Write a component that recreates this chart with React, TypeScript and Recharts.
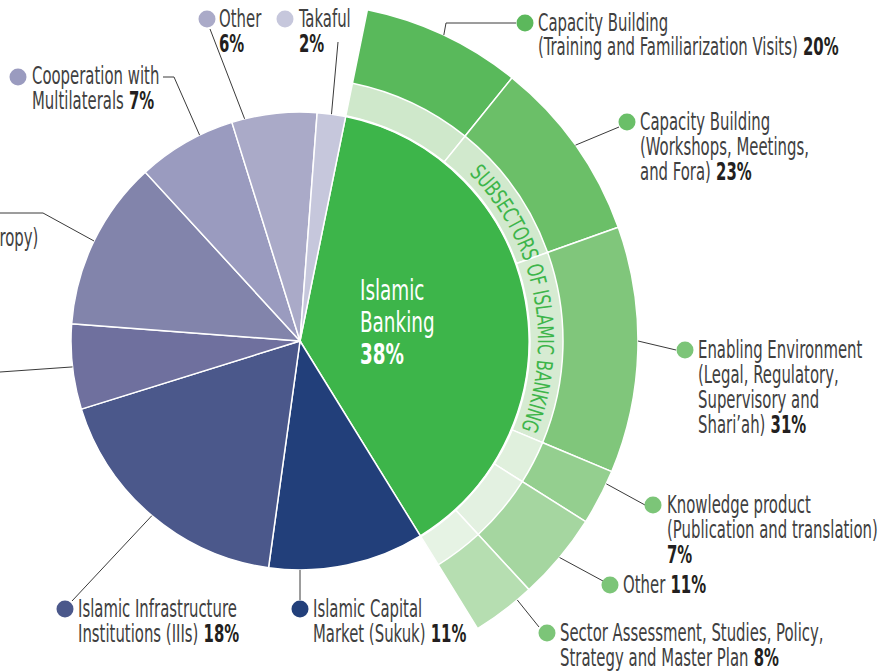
import { Cell, Pie, PieChart } from "recharts"

const W = 883
const H = 672
const CX = 300
const CY = 341
const START = 78.5 // recharts degrees, counter-clockwise from 3 o'clock
const FONT = "'Liberation Sans Narrow', 'DejaVu Sans Condensed', 'Roboto', sans-serif"
const SX = 0.69
const LINE = 25
const RAD = Math.PI / 180

// sectors, clockwise starting at Islamic Banking
const sectors = [
  "Islamic Banking",
  "Islamic Capital Market (Sukuk)",
  "Islamic Infrastructure Institutions (IIIs)",
  "Islamic Microfinance",
  "Islamic Social Finance (Zakat, Awqaf and Philanthropy)",
  "Cooperation with Multilaterals",
  "Other",
  "Takaful",
]
const sectorShares = [38, 11, 18, 6, 12, 7, 6, 2]
const sectorColors = ["#3db54a", "#223f7a", "#4b588b", "#6f709e", "#8284ab", "#9a9bbf", "#aaaac8", "#c6c7dc"]
const sectorLabelLines = [
  ["Islamic", "Banking"],
  ["Islamic Capital", "Market (Sukuk)"],
  ["Islamic Infrastructure", "Institutions (IIIs)"],
  ["Islamic Microfinance"],
  ["Social Finance", "(Zakat, Awqaf and Philanthropy)"],
  ["Cooperation with", "Multilaterals"],
  ["Other", ""],
  ["Takaful", ""],
]

// subsectors of Islamic Banking
const subsectors = [
  "Capacity Building (Training and Familiarization Visits)",
  "Capacity Building (Workshops, Meetings, and Fora)",
  "Enabling Environment (Legal, Regulatory, Supervisory and Shari'ah)",
  "Knowledge product (Publication and translation)",
  "Other",
  "Sector Assessment, Studies, Policy, Strategy and Master Plan",
]
const subsectorShares = [20, 23, 31, 7, 11, 8]
const subsectorColors = ["#59b95b", "#6bbf68", "#80c67b", "#94cf8f", "#a5d6a0", "#b6deb1"]
const bandColors = ["#cfe8cb", "#d1e9cd", "#d6ebd2", "#e0f0dd", "#e3f1e1", "#e6f3e4"]
const subsectorDotColors = ["#5cb85c", "#6abf68", "#7cc578", "#7cc578", "#7cc578", "#7cc578"]
const subsectorLabelLines = [
  ["Capacity Building", "(Training and Familiarization Visits)"],
  ["Capacity Building", "(Workshops, Meetings,", "and Fora)"],
  ["Enabling Environment", "(Legal, Regulatory,", "Supervisory and", "Shari\u2019ah)"],
  ["Knowledge product", "(Publication and translation)", ""],
  ["Other"],
  ["Sector Assessment, Studies, Policy,", "Strategy and Master Plan"],
]

const sectorData = sectors.map((name, i) => ({ name, value: sectorShares[i] }))
const subData = subsectors.map((name, i) => ({ name, value: subsectorShares[i] }))

type Pt = [number, number]
type Lay = { edge?: number; path: Pt[]; dot?: Pt; tx: number; ty: number; anchor?: "start" | "end"; pctLine?: number }

// label placement (edge = clockwise degrees from 12 o'clock, else midAngle)
const sectorLayout: (Lay | null)[] = [
  null,
  { edge: 180, path: [[300, 600]], dot: [300, 609], tx: 313, ty: 617 },
  { path: [[72, 601]], dot: [65, 609], tx: 78, ty: 617 },
  { path: [[0, 372], [-40, 372]], tx: -48, ty: 378, anchor: "end" },
  { path: [[43, 213], [-10, 213]], dot: [-215, 213], tx: -202, ty: 221, pctLine: 0 },
  { edge: 334, path: [[174, 77], [163, 77]], dot: [18, 77], tx: 32, ty: 84 },
  { edge: 346, path: [[210, 29]], dot: [207, 19], tx: 219, ty: 27 },
  { path: [[338, 42]], dot: [285, 19], tx: 299, ty: 27 },
]
const subLayout: Lay[] = [
  { path: [[446, 23], [516, 23]], dot: [525, 23], tx: 538, ty: 30.5 },
  { path: [[619, 127]], dot: [627, 122], tx: 640, ty: 130 },
  { edge: 90, path: [[676, 350]], dot: [685, 350], tx: 698, ty: 358 },
  { edge: 115, path: [[645, 505]], dot: [653, 505], tx: 667, ty: 513 },
  { path: [[603, 581]], dot: [610, 585], tx: 623, ty: 593 },
  { edge: 140, path: [[539, 627]], dot: [547, 633], tx: 560, ty: 641 },
]

function polar(cx: number, cy: number, r: number, a: number): Pt {
  return [cx + r * Math.cos(a * RAD), cy - r * Math.sin(a * RAD)]
}

function LabelText({ lay, lines, pct }: { lay: Lay; lines: string[]; pct: number }) {
  const pl = lay.pctLine ?? lines.length - 1
  return (
    <g transform={`translate(${lay.tx},${lay.ty}) scale(${SX},1)`}>
      {lines.map((ln, i) => (
        <text key={i} x={0} y={i * LINE} fontFamily={FONT} fontSize={24} fill="#404040" textAnchor={lay.anchor ?? "start"}>
          {ln}
          {i === pl && (
            <tspan fontWeight={700} fill="#231f20">
              {ln ? " " : ""}
              {pct}%
            </tspan>
          )}
        </text>
      ))}
    </g>
  )
}

function makeLabel(layout: (Lay | null)[], lines: string[][], shares: number[], dots: string[]) {
  return (p: any) => {
    const lay = layout[p.index]
    if (!lay) return null
    const ang = lay.edge != null ? 90 - lay.edge : p.midAngle
    const e = polar(p.cx, p.cy, p.outerRadius, ang)
    const pts = [e, ...lay.path].map((q) => q.join(",")).join(" ")
    return (
      <g key={`lab-${p.index}`}>
        <polyline points={pts} fill="none" stroke="#3a3a3a" strokeWidth={1} />
        {lay.dot && <circle cx={lay.dot[0]} cy={lay.dot[1]} r={8.5} fill={dots[p.index]} />}
        <LabelText lay={lay} lines={lines[p.index]} pct={shares[p.index]} />
      </g>
    )
  }
}

const sectorLabel = (p: any) => {
  if (p.index !== 0) return makeLabel(sectorLayout, sectorLabelLines, sectorShares, sectorColors)(p)
  return (
    <g key="lab-0" transform="translate(360,300) scale(0.73,1)">
      {sectorLabelLines[0].map((ln, i) => (
        <text key={i} x={0} y={i * 32} fontFamily={FONT} fontSize={28} fill="#fff">
          {ln}
        </text>
      ))}
      <text x={0} y={64} fontFamily={FONT} fontSize={28} fontWeight={700} fill="#fff">
        {sectorShares[0]}%
      </text>
    </g>
  )
}

const subLabel = makeLabel(subLayout, subsectorLabelLines, subsectorShares, subsectorDotColors)

const bandLabel = (p: any) => {
  if (p.index !== 0) return null
  const r = 238
  const [x1, y1] = polar(p.cx, p.cy, r, 90 - 45)
  const [x2, y2] = polar(p.cx, p.cy, r, 90 - 112)
  return (
    <g key="band-title">
      <path id="subArc" d={`M${x1},${y1} A${r},${r} 0 0 1 ${x2},${y2}`} fill="none" />
      <text fontFamily={FONT} fontSize={22} fill="#3db54a">
        <textPath href="#subArc" startOffset="50%" textAnchor="middle" textLength={276} lengthAdjust="spacingAndGlyphs">
          SUBSECTORS OF ISLAMIC BANKING
        </textPath>
      </text>
    </g>
  )
}

export default function App() {
  const ibEnd = START - (360 * sectorShares[0]) / 100
  return (
    <div style={{ position: "absolute", left: 0, top: 0, width: W, height: H, background: "#fff" }}>
      <PieChart width={W} height={H} margin={{ top: 0, right: 0, bottom: 0, left: 0 }}>
        <Pie
          data={subData}
          dataKey="value"
          cx={CX}
          cy={CY}
          innerRadius={262}
          outerRadius={338}
          startAngle={START}
          endAngle={ibEnd}
          stroke="#fff"
          strokeWidth={1.5}
          label={subLabel}
          labelLine={false}
          isAnimationActive={false}
        >
          {subData.map((d, i) => (
            <Cell key={d.name} fill={subsectorColors[i]} />
          ))}
        </Pie>
        <Pie
          data={subData}
          dataKey="value"
          cx={CX}
          cy={CY}
          innerRadius={230}
          outerRadius={263}
          startAngle={START}
          endAngle={ibEnd}
          stroke="#fff"
          strokeWidth={1.5}
          label={bandLabel}
          labelLine={false}
          isAnimationActive={false}
        >
          {subData.map((d, i) => (
            <Cell key={d.name} fill={bandColors[i]} />
          ))}
        </Pie>
        <Pie
          data={sectorData}
          dataKey="value"
          cx={CX}
          cy={CY}
          outerRadius={229}
          startAngle={START}
          endAngle={START - 360}
          stroke="#fff"
          strokeWidth={1.5}
          label={sectorLabel}
          labelLine={false}
          isAnimationActive={false}
        >
          {sectorData.map((d, i) => (
            <Cell key={d.name} fill={sectorColors[i]} />
          ))}
        </Pie>
      </PieChart>
    </div>
  )
}
